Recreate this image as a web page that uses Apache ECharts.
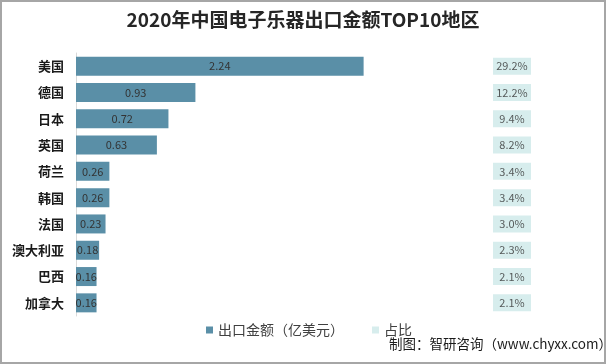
<!DOCTYPE html>
<html><head><meta charset="utf-8">
<script src="https://cdn.jsdelivr.net/npm/echarts@6/dist/echarts.min.js"></script>
<style>html,body{margin:0;padding:0;background:#fff}#c{width:606px;height:364px;box-sizing:border-box;border:2px solid #a6a6a6}</style>
</head><body><div id="c"></div>
<script>
var categories = ['美国','德国','日本','英国','荷兰','韩国','法国','澳大利亚','巴西','加拿大'];
var exportValues = [2.24,0.93,0.72,0.63,0.26,0.26,0.23,0.18,0.16,0.16];
var sharePct = ['29.2%','12.2%','9.4%','8.2%','3.4%','3.4%','3.0%','2.3%','2.1%','2.1%'];
var titleText = '2020年中国电子乐器出口金额TOP10地区';
var seriesNames = ['出口金额（亿美元）','占比'];
var sourceText = '制图：智研咨询（www.chyxx.com）';

var font = '"Microsoft YaHei","Noto Sans CJK SC",sans-serif';
var chart = echarts.init(document.getElementById('c'), null, {renderer:'canvas'});
chart.setOption({
  animation:false,
  title:{text:titleText,left:'center',top:3,textStyle:{fontSize:19,fontWeight:'bold',color:'#262626',fontFamily:'"Noto Sans CJK SC",sans-serif'}},
  legend:{top:321,left:204,padding:0,itemWidth:7,itemHeight:7,itemGap:28,icon:'rect',
    textStyle:{fontSize:14,color:'#404040',fontFamily:font},data:seriesNames},
  grid:[{left:74,top:51,width:321,height:263},{left:491,top:51,width:38,height:263}],
  xAxis:[{type:'value',min:0,max:2.5,show:false,gridIndex:0},
         {type:'category',data:['占比'],show:false,gridIndex:1}],
  yAxis:[{type:'category',data:categories,inverse:true,gridIndex:0,
          axisLine:{show:true,lineStyle:{color:'#d9d9d9'}},axisTick:{show:false},
          axisLabel:{fontSize:13,fontWeight:'bold',color:'#1a1a1a',margin:12,fontFamily:'"Noto Sans CJK SC",sans-serif'}},
         {type:'category',data:categories,inverse:true,gridIndex:1,show:false}],
  series:[
    {name:seriesNames[0],type:'bar',xAxisIndex:0,yAxisIndex:0,data:exportValues,barWidth:19,
     itemStyle:{color:'#5a8fa7'},
     label:{show:true,position:'inside',color:'#333',fontSize:11,fontFamily:font}},
    {name:seriesNames[1],type:'scatter',xAxisIndex:1,yAxisIndex:1,
     data:sharePct.map(function(p,i){return ['占比',categories[i],p];}),
     symbol:'rect',symbolSize:[38,17],itemStyle:{color:'#cde8e8'},
     label:{show:true,position:'inside',color:'#333',fontSize:11,fontFamily:font,formatter:function(p){return p.value[2];}}}
  ],
  graphic:[{type:'text',left:387,top:335,style:{text:sourceText,fontSize:13.5,fill:'#1a1a1a',fontFamily:font}}]
});
</script></body></html>
